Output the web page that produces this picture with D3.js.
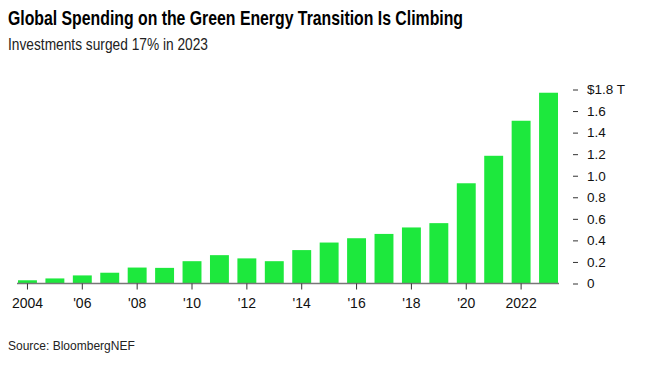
<!DOCTYPE html>
<html>
<head>
<meta charset="utf-8">
<script src="https://cdn.jsdelivr.net/npm/d3@7"></script>
<style>
  body { margin: 0; background: #fff; }
  svg { font-family: "Liberation Sans", Arial, sans-serif; }
</style>
</head>
<body>
<div id="chart"></div>
<script>
// data ($ trillions)
const years = [2004, 2005, 2006, 2007, 2008, 2009, 2010, 2011, 2012, 2013,
               2014, 2015, 2016, 2017, 2018, 2019, 2020, 2021, 2022, 2023];
const spending = [0.03, 0.047, 0.075, 0.10, 0.148, 0.145, 0.207, 0.263, 0.233, 0.207,
                  0.31, 0.38, 0.42, 0.46, 0.52, 0.56, 0.93, 1.185, 1.51, 1.77];
const yTicks = [0, 0.2, 0.4, 0.6, 0.8, 1.0, 1.2, 1.4, 1.6, 1.8];
const xTickYears = [2004, 2006, 2008, 2010, 2012, 2014, 2016, 2018, 2020, 2022];

const width = 660;
const height = 374;

const svg = d3.select("#chart")
    .append("svg")
    .attr("width", width)
    .attr("height", height);

// titles
svg.append("text")
    .attr("x", 8)
    .attr("y", 25)
    .attr("textLength", 455)
    .attr("lengthAdjust", "spacingAndGlyphs")
    .style("font-size", "20.5px")
    .style("font-weight", "bold")
    .style("fill", "#000")
    .text("Global Spending on the Green Energy Transition Is Climbing");

svg.append("text")
    .attr("x", 8)
    .attr("y", 50)
    .attr("textLength", 200)
    .attr("lengthAdjust", "spacingAndGlyphs")
    .style("font-size", "16.5px")
    .style("fill", "#222")
    .text("Investments surged 17% in 2023");

// scales
const x = d3.scaleBand()
    .domain(years)
    .range([18, 558])
    .paddingInner(0.31);

const y = d3.scaleLinear()
    .domain([0, 1.8])
    .range([283.5, 89.5]);

// bars
svg.append("g")
    .selectAll("rect")
    .data(years)
    .join("rect")
    .attr("x", d => x(d))
    .attr("width", x.bandwidth())
    .attr("y", (d, i) => y(spending[i]))
    .attr("height", (d, i) => y(0) - y(spending[i]))
    .attr("fill", "#1de83d");

// baseline
svg.append("line")
    .attr("x1", 17)
    .attr("x2", 559)
    .attr("y1", y(0))
    .attr("y2", y(0))
    .attr("stroke", "#777")
    .attr("stroke-width", 1.5);

// x axis
const xAxis = d3.axisBottom(x)
    .tickValues(xTickYears)
    .tickSize(6)
    .tickPadding(9)
    .tickFormat(d => (d === 2004 || d === 2022) ? String(d) : "'" + String(d).slice(2));

const gx = svg.append("g")
    .attr("transform", `translate(0,${y(0)})`)
    .call(xAxis);
gx.select(".domain").remove();
gx.selectAll(".tick line").attr("stroke", "#333");
gx.selectAll(".tick text")
    .style("font-size", "14px")
    .style("font-family", "Liberation Sans, Arial, sans-serif")
    .style("fill", "#111");

// y axis on the right
const yAxis = d3.axisRight(y)
    .tickValues(yTicks)
    .tickSize(5)
    .tickPadding(9)
    .tickFormat(d => d === 1.8 ? "$1.8 T" : (d === 0 ? "0" : d3.format(".1f")(d)));

const gy = svg.append("g")
    .attr("transform", "translate(573,0)")
    .call(yAxis);
gy.select(".domain").remove();
gy.selectAll(".tick line").attr("stroke", "#333");
gy.selectAll(".tick text")
    .style("font-size", "13.5px")
    .style("font-family", "Liberation Sans, Arial, sans-serif")
    .style("fill", "#111");

// source
svg.append("text")
    .attr("x", 8)
    .attr("y", 350)
    .style("font-size", "12px")
    .style("fill", "#222")
    .text("Source: BloombergNEF");
</script>
</body>
</html>
